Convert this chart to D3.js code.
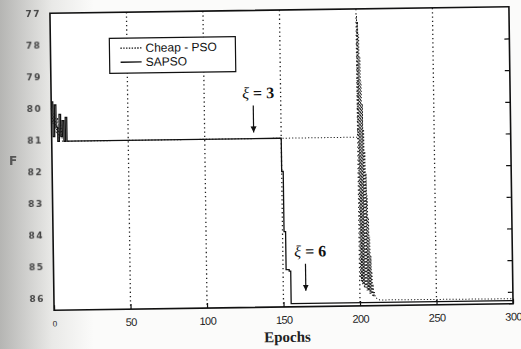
<!DOCTYPE html>
<html>
<head>
<meta charset="utf-8">
<script src="https://cdn.jsdelivr.net/npm/d3@7"></script>
<style>
  body { margin: 0; background: #fbfbfa; }
  svg { display: block; }
</style>
</head>
<body>
<div id="chart"></div>
<script>
(function() {
    let w = 521, h = 349
    let left = 52, right = 511, top = 10, bottom = 307

    // tick labels
    let xTicks = [0, 50, 100, 150, 200, 250, 300]
    let yTicks = [77, 78, 79, 80, 81, 82, 83, 84, 85, 86]
    let gridX = [50, 100, 150, 200, 250]

    // SAPSO (solid)
    let sapsoEpochs = [0, 1, 2, 3, 4, 5, 6, 7, 8, 9, 10, 11, 149, 150, 151, 152, 153, 154, 155, 300]
    let sapsoValues = [79.8, 80.9, 79.9, 80.6, 81.05, 80.2, 80.9, 80.4, 81.05, 80.3, 81.05, 81.05, 81.05, 82.1, 84.0, 85.2, 85.2, 85.25, 86.28, 86.28]

    // Cheap - PSO (dotted)
    let cheapEpochs = [0, 1, 2, 3, 4, 5, 6, 7, 8, 200,
        200.3, 200.6, 200.9, 201.2, 201.5, 201.8, 202.1, 202.4, 202.7, 203,
        203.3, 203.6, 203.9, 204.2, 204.5, 204.8, 205.1, 205.4, 205.7, 206,
        206.3, 206.6, 206.9, 207.2, 207.5, 207.8, 208.1, 208.4, 208.7, 209,
        209.5, 210, 211, 213, 300]
    let cheapValues = [80.0, 80.5, 80.1, 80.8, 80.3, 81.05, 80.5, 81.05, 81.05, 81.05,
        77.2, 85.5, 77.4, 85.6, 77.8, 85.7, 78.5, 85.7, 79.3, 85.8,
        80.0, 85.8, 80.8, 85.8, 81.5, 85.9, 82.2, 85.9, 82.9, 85.9,
        83.6, 86.0, 84.2, 86.0, 84.8, 86.0, 85.3, 86.1, 85.7, 86.1,
        85.95, 86.1, 86.15, 86.2, 86.22]

    let legendNames = ["Cheap - PSO", "SAPSO"]

    let x = d3.scaleLinear().domain([0, 300]).range([left, right])
    let y = d3.scaleLinear().domain([77, 86.38]).range([top, bottom])

    let svg = d3.select("#chart")
                .append("svg")
                .attr("width", w)
                .attr("height", h)

    // scanned paper shadow on the left
    let grad = svg.append("defs").append("linearGradient")
                  .attr("id", "shade")
    grad.append("stop").attr("offset", "0").attr("stop-color", "#b5b5b3")
    grad.append("stop").attr("offset", "0.05").attr("stop-color", "#cfcfcd")
    grad.append("stop").attr("offset", "0.1").attr("stop-color", "#e9e9e7")
    grad.append("stop").attr("offset", "0.18").attr("stop-color", "#fbfbfa")
    svg.append("rect").attr("width", w).attr("height", h).attr("fill", "url(#shade)")

    let g = svg.append("g")
               .attr("transform", "rotate(-0.8," + (left + right) / 2 + "," + (top + bottom) / 2 + ")")

    g.append("rect")
     .attr("x", left).attr("y", top)
     .attr("width", right - left).attr("height", bottom - top)
     .attr("fill", "#fff")

    // dotted vertical grid
    g.selectAll("line.grid")
     .data(gridX)
     .enter()
     .append("line")
     .attr("class", "grid")
     .attr("x1", d => x(d)).attr("x2", d => x(d))
     .attr("y1", top).attr("y2", bottom)
     .attr("stroke", "#222")
     .attr("stroke-width", 1.3)
     .attr("stroke-dasharray", "1.3,3")

    // axes
    let xAxis = d3.axisBottom(x).tickValues(xTicks).tickSize(-5).tickPadding(9).tickSizeOuter(0)
    let yAxis = d3.axisLeft(y).tickValues(yTicks).tickSize(0).tickPadding(9).tickFormat(d3.format("d"))
    let yRight = d3.axisLeft(y).tickValues(yTicks.slice(1)).tickSize(5).tickFormat("").tickSizeOuter(0)

    let gx = g.append("g").attr("transform", "translate(0," + bottom + ")").call(xAxis)
    gx.selectAll("text")
      .attr("font-family", "Liberation Sans, Arial, sans-serif")
      .attr("font-size", 11)
      .attr("letter-spacing", "-0.5")
      .attr("fill", "#222")
    gx.select(".tick text").attr("font-size", 8).attr("dy", "0.9em")

    let gy = g.append("g").attr("transform", "translate(" + left + ",0)").call(yAxis)
    gy.selectAll("text")
      .attr("font-family", "DejaVu Sans, sans-serif")
      .attr("font-weight", "bold")
      .attr("font-size", 9)
      .attr("letter-spacing", "1.5")
      .attr("fill", "#444")
      .style("filter", "blur(0.6px)")

    g.append("g").attr("transform", "translate(" + right + ",0)").call(yRight)

    g.selectAll(".domain").remove()
    g.selectAll(".tick line").attr("stroke", "#111").attr("stroke-width", 1.2)

    g.append("rect")
     .attr("x", left).attr("y", top)
     .attr("width", right - left).attr("height", bottom - top)
     .attr("fill", "none")
     .attr("stroke", "#111")
     .attr("stroke-width", 1.6)

    // series
    let line = d3.line().x(d => x(d[0])).y(d => y(d[1])).curve(d3.curveStepAfter)
    let lineRaw = d3.line().x(d => x(d[0])).y(d => y(d[1]))

    let cheapData = d3.zip(cheapEpochs, cheapValues)
    let sapsoData = d3.zip(sapsoEpochs, sapsoValues)

    g.append("path")
     .attr("d", lineRaw(cheapData))
     .attr("fill", "none")
     .attr("stroke", "#222")
     .attr("stroke-width", 1)
     .attr("stroke-dasharray", "1.2,2")

    g.append("path")
     .attr("d", line(sapsoData))
     .attr("fill", "none")
     .attr("stroke", "#111")
     .attr("stroke-width", 1.3)

    // legend
    let lg = g.append("g").attr("transform", "translate(111,36)")
    lg.append("rect")
      .attr("width", 126).attr("height", 35)
      .attr("fill", "#fff").attr("stroke", "#111").attr("stroke-width", 1.2)
    lg.selectAll("line.key")
      .data(legendNames)
      .enter()
      .append("line")
      .attr("x1", 11).attr("x2", 32)
      .attr("y1", (d, i) => 10 + i * 14).attr("y2", (d, i) => 10 + i * 14)
      .attr("stroke", "#111")
      .attr("stroke-width", 1.3)
      .attr("stroke-dasharray", (d, i) => i == 0 ? "1.4,1.4" : null)
    lg.selectAll("text")
      .data(legendNames)
      .enter()
      .append("text")
      .text(d => d)
      .attr("x", 36)
      .attr("y", (d, i) => 14 + i * 14)
      .attr("font-family", "Liberation Sans, Arial, sans-serif")
      .attr("font-size", 12)
      .attr("fill", "#111")

    // annotations
    let notes = [
        {label: "3", tx: 243, ty: 98},
        {label: "6", tx: 293, ty: 257}
    ]
    g.append("defs").append("marker")
     .attr("id", "head")
     .attr("viewBox", "0 0 10 10")
     .attr("refX", 10).attr("refY", 5)
     .attr("markerWidth", 5).attr("markerHeight", 6)
     .attr("orient", "auto")
     .append("path").attr("d", "M0,0L10,5L0,10z").attr("fill", "#111")

    let note = g.selectAll("g.note")
                .data(notes)
                .enter()
                .append("g")
                .attr("class", "note")
    let nt = note.append("text")
                 .attr("x", d => d.tx).attr("y", d => d.ty)
                 .attr("font-family", "Liberation Serif, Times New Roman, serif")
                 .attr("font-size", 16)
                 .attr("fill", "#111")
    nt.append("tspan").attr("font-style", "italic").text("ξ")
    nt.append("tspan").attr("font-weight", "bold").text(d => " = " + d.label)

    note.append("line")
        .attr("x1", d => d.tx + 11).attr("x2", d => d.tx + 11)
        .attr("y1", d => d.ty + 7)
        .attr("y2", d => d.ty + 34)
        .attr("stroke", "#111")
        .attr("stroke-width", 1.2)
        .attr("marker-end", "url(#head)")

    // axis titles
    g.append("text")
     .text("Epochs")
     .attr("x", 285).attr("y", 342)
     .attr("text-anchor", "middle")
     .attr("font-family", "Liberation Serif, Times New Roman, serif")
     .attr("font-weight", "bold")
     .attr("font-size", 15)
     .attr("fill", "#222")

    svg.append("text")
       .text("F")
       .attr("x", 9).attr("y", 165)
       .attr("font-family", "DejaVu Sans, sans-serif")
       .attr("font-weight", "bold")
       .attr("font-size", 12)
       .attr("fill", "#555")
       .style("filter", "blur(0.7px)")
})()
</script>
</body>
</html>
